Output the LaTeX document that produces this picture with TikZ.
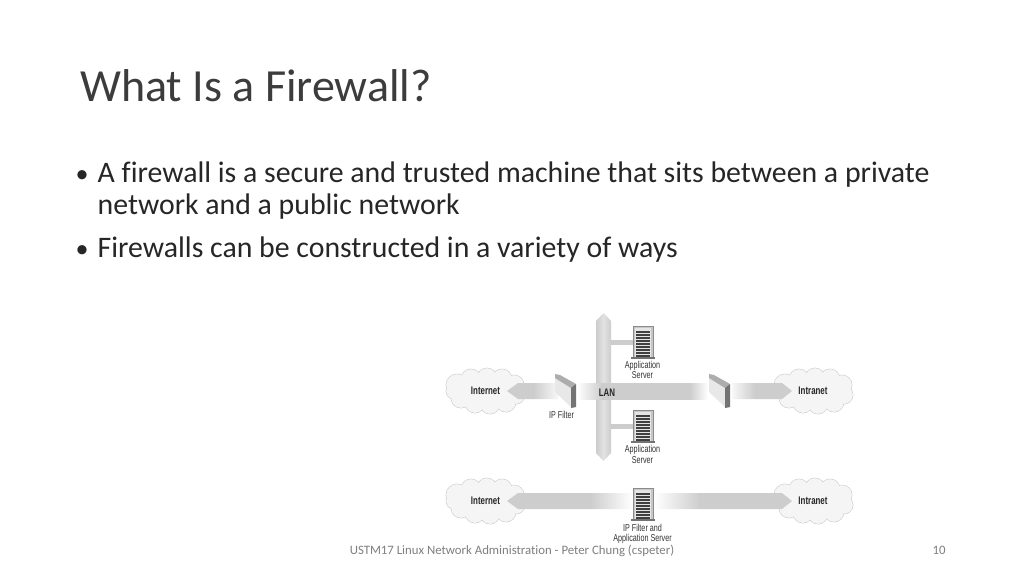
\documentclass[tikz,border=0pt]{standalone}
\usepackage{fontspec}
\setmainfont[Ligatures=NoCommon]{Carlito}
\newfontfamily\narrowfont[FakeStretch=0.72]{Liberation Sans}
\usetikzlibrary{shadings}
\definecolor{band}{HTML}{CDCDCD}
\definecolor{ink}{HTML}{262626}
\definecolor{foot}{HTML}{7F7F7F}
\pgfdeclarehorizontalshading{lanband}{100bp}{color(0bp)=(white);color(25bp)=(white);color(34.5bp)=(band);color(68bp)=(band);color(75bp)=(white);color(100bp)=(white)}
\pgfdeclarehorizontalshading{leftarrow}{100bp}{color(0bp)=(band);color(25bp)=(band);color(51bp)=(band);color(75bp)=(white!85!band);color(100bp)=(white)}
\pgfdeclarehorizontalshading{rightarrow}{100bp}{color(0bp)=(white);color(25bp)=(white!85!band);color(44bp)=(band);color(75bp)=(band);color(100bp)=(band)}
\pgfdeclarehorizontalshading{longband}{100bp}{color(0bp)=(band);color(25bp)=(band);color(39.6bp)=(band);color(47bp)=(white);color(50.8bp)=(white);color(58.9bp)=(band);color(75bp)=(band);color(100bp)=(band)}
\tikzset{
  x=1pt,y=-1pt,
  titletext/.style={anchor=base west,inner sep=0,font=\fontsize{46}{46}\selectfont,text=ink!90!white},
  bodytext/.style={anchor=base west,inner sep=0,font=\fontsize{29.8}{29.8}\selectfont,text=ink},
  bullettext/.style={anchor=base west,inner sep=0,font=\fontsize{26}{26}\selectfont,text=ink},
  foottext/.style={anchor=base,inner sep=0,font=\fontsize{12.8}{12.8}\selectfont,text=foot},
  netlabel/.style={inner sep=0,font=\narrowfont\bfseries\fontsize{11}{11}\selectfont,text=black!85},
  smalllabel/.style={inner sep=0,align=center,font=\narrowfont\fontsize{10}{10.5}\selectfont,text=black!80},
  cloudpart/.style={fill=black!4,draw=black!18,line width=.7pt},
  cloudfill/.style={fill=black!4},
}
\newcommand{\cloudat}[2]{%
\begin{scope}[shift={(#1,#2)}]
 \foreach \a/\b/\r in {-28/-6/11,-14/-12/10,2/-13/10,17/-12/10,29/-6/10,31/4/9,21/11/10,5/13/10,-10/12/10,-24/7/10,-31/0/8}
   \draw[cloudpart] (\a,\b) circle[radius=\r];
 \foreach \a/\b/\r in {-28/-6/10.6,-14/-12/9.6,2/-13/9.6,17/-12/9.6,29/-6/9.6,31/4/8.6,21/11/9.6,5/13/9.6,-10/12/9.6,-24/7/9.6,-31/0/7.6}
   \fill[cloudfill] (\a,\b) circle[radius=\r];
 \fill[cloudfill] (-30,-8) rectangle (30,8);
 \fill[cloudfill] (-14,-14) rectangle (20,14);
\end{scope}}
\newcommand{\serverat}[2]{%
\begin{scope}[shift={(#1,#2)}]
 \fill[black!22] (-10,-32) rectangle (10,-1);
 \draw[black!45,line width=.5pt] (-10,-1) -- (-10,-32) -- (10,-32) -- (10,-1);
 \fill[black!10] (-8,-30) rectangle (8,-1);
 \foreach \y in {-27,-24,-21,-18,-15,-12,-9,-6,-3}
   \fill[black!75] (-7,\y) rectangle (7,\y+1.5);
 \fill[black!55] (-12,-1) rectangle (12,1);
\end{scope}}
\newcommand{\filterat}[1]{%
\begin{scope}[shift={(#1,0)}]
 \fill[black!9] (0,378) -- (16,388) -- (16,407) -- (0,392) -- cycle;
 \fill[black!32] (0,374) -- (5,375) -- (21,384) -- (16,388) -- (0,378) -- cycle;
 \fill[black!55] (16,388) -- (21,384) -- (21,407) -- (16,408) -- cycle;
\end{scope}}
\begin{document}
\begin{tikzpicture}
\useasboundingbox (0,0) rectangle (1024,576);
\fill[white] (0,0) rectangle (1024,576);
\node[titletext] (title) at (80,101) {What Is a Firewall?};
\node[bullettext] (bullet1) at (75.5,182) {•};
\node[bodytext] (line1) at (97.5,182) {A firewall is a secure and trusted machine that sits between a private};
\node[bodytext] (line2) at (97.5,214) {network and a public network};
\node[bullettext] (bullet2) at (75.5,257) {•};
\node[bodytext] (line3) at (97.5,257) {Firewalls can be constructed in a variety of ways};
% upper diagram
\cloudat{485}{391}
\cloudat{813}{391}
\fill[band] (611,340) rectangle (634,345);
\fill[band] (611,424) rectangle (634,429);
\shade[left color=black!20,right color=black!20,middle color=black!11] (596,321) -- (603.5,313) -- (611,321) -- (611,453) -- (603.5,461) -- (596,453) -- cycle;
\shade[shading=lanband] (577,383) rectangle (708,399);
\shade[shading=leftarrow] (507,391) -- (518,383) -- (558,383) -- (558,399) -- (518,399) -- cycle;
\shade[shading=rightarrow] (732,383) -- (782,383) -- (792,391) -- (782,399) -- (732,399) -- cycle;
\filterat{555}
\filterat{709}
\serverat{643}{358}
\serverat{643}{442}
\node[netlabel] (inet1) at (485.5,391) {Internet};
\node[netlabel] (intra1) at (813,391) {Intranet};
\node[netlabel] (lan) at (607,392.5) {LAN};
\node[smalllabel] (ipf) at (561.5,415) {IP Filter};
\node[smalllabel] (app1) at (642.5,370) {Application\\Server};
\node[smalllabel] (app2) at (642.5,454.5) {Application\\Server};
% lower diagram
\cloudat{485}{501}
\cloudat{813}{501}
\shade[shading=longband] (507,501) -- (518,493) -- (782,493) -- (792,501) -- (782,509) -- (518,509) -- cycle;
\serverat{643}{520}
\node[netlabel] (inet2) at (485.5,500.5) {Internet};
\node[netlabel] (intra2) at (813,500.5) {Intranet};
\node[smalllabel] (both) at (642.5,534) {IP Filter and\\Application Server};
% footer
\node[foottext] (foot) at (512,554) {USTM17 Linux Network Administration - Peter Chung (cspeter)};
\node[foottext] (page) at (939,554) {10};
\end{tikzpicture}
\end{document}
